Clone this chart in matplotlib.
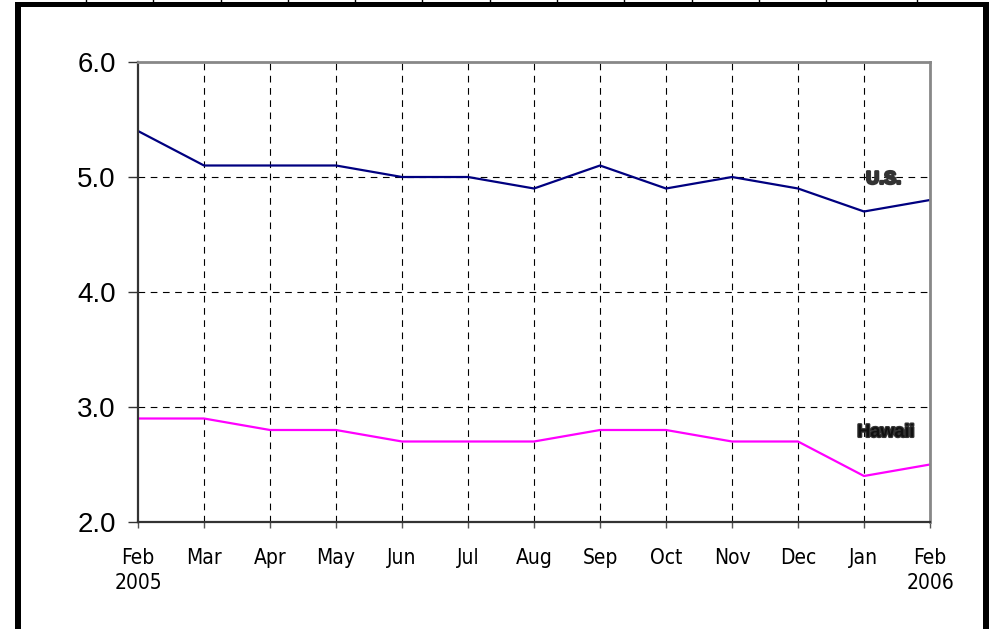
"""Unemployment rate: U.S. vs Hawaii, Feb 2005 - Feb 2006."""
import matplotlib
matplotlib.use('Agg')
import matplotlib.pyplot as plt
import matplotlib.patheffects as pe
from matplotlib.patches import Rectangle
from matplotlib.lines import Line2D

W, H = 989, 629

months = ['Feb\n2005', 'Mar', 'Apr', 'May', 'Jun', 'Jul', 'Aug', 'Sep',
          'Oct', 'Nov', 'Dec', 'Jan', 'Feb\n2006']
us_rate = [5.4, 5.1, 5.1, 5.1, 5.0, 5.0, 4.9, 5.1, 4.9, 5.0, 4.9, 4.7, 4.8]
hawaii_rate = [2.9, 2.9, 2.8, 2.8, 2.7, 2.7, 2.7, 2.8, 2.8, 2.7, 2.7, 2.4, 2.5]
y_ticks = [2.0, 3.0, 4.0, 5.0, 6.0]

NAVY = '#000080'
MAGENTA = '#FF00FF'
ARIAL = 'Liberation Sans'

plt.rcParams['font.family'] = [ARIAL, 'DejaVu Sans']

fig = plt.figure(figsize=(W / 100, H / 100), dpi=100)
ax = fig.add_axes([138 / W, 1 - 522 / H, 792 / W, 460 / H])

x = list(range(len(months)))
ax.plot(x, us_rate, color=NAVY, lw=1.6)
ax.plot(x, hawaii_rate, color=MAGENTA, lw=1.6)

ax.set_xlim(0, len(months) - 1)
ax.set_ylim(2, 6)

# grid: dashed, only interior lines
for v in y_ticks[1:-1]:
    ax.axhline(v, color='black', lw=0.8, ls=(0, (6, 5)), zorder=0)
for i in x[1:-1]:
    ax.axvline(i, color='black', lw=0.8, ls=(0, (6, 5)), zorder=0)

ax.set_yticks(y_ticks)
ax.set_yticklabels(['%.1f' % v for v in y_ticks], fontsize=20, family=ARIAL)
ax.set_xticks(x)
ax.set_xticklabels(months, fontsize=15, linespacing=1.35,
                   family='DejaVu Sans', fontstretch='condensed')
ax.tick_params(axis='y', length=7, width=1, pad=9, color='#333333')
ax.tick_params(axis='x', length=4.5, width=1, pad=14, color='#555555')

ax.spines['left'].set_color('#333333')
ax.spines['bottom'].set_color('#333333')
ax.spines['left'].set_linewidth(1.6)
ax.spines['bottom'].set_linewidth(1.6)
ax.spines['top'].set_color('#888888')
ax.spines['right'].set_color('#888888')
ax.spines['top'].set_linewidth(2)
ax.spines['right'].set_linewidth(2)

heavy = [pe.withStroke(linewidth=1.8, foreground='#333333')]
ax.text(11.3, 4.98, 'U.S.', fontsize=13, fontweight='bold', color='#333333',
        ha='center', va='center', family=ARIAL, path_effects=heavy)
ax.text(11.33, 2.78, 'Hawaii', fontsize=13, fontweight='bold', color='#111111',
        ha='center', va='center', family=ARIAL, path_effects=heavy)

# sheet border around the chart
def px_rect(x0, y0, w, h):
    fig.add_artist(Rectangle((x0 / W, 1 - (y0 + h) / H), w / W, h / H,
                             transform=fig.transFigure, color='black', lw=0))

px_rect(15, 2, 974, 5)
px_rect(15, 2, 6, H)
px_rect(983, 2, 6, H)

for cx in [86, 153, 221, 288, 355, 422, 490, 557, 624, 692, 759, 826, 917]:
    fig.add_artist(Line2D([cx / W, cx / W], [1, 1 - 3 / H],
                          transform=fig.transFigure, color='black', lw=1))

fig.savefig('out.png', dpi=100)
